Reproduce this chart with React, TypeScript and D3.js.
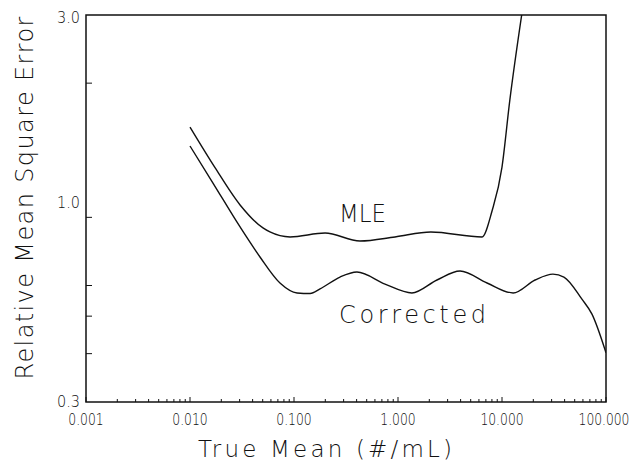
import React from 'react';
import * as d3 from 'd3';

// True mean (#/mL) and relative MSE
const mleX = [0.01, 0.0174, 0.0303, 0.0503, 0.0587, 0.0917, 0.199, 0.431, 0.935, 2.07, 6.43, 8.02, 10.0, 11.9, 15.6];
const mleY = [1.54, 1.21, 0.969, 0.845, 0.825, 0.801, 0.82, 0.782, 0.801, 0.825, 0.801, 0.935, 1.214, 1.81, 3.05];

const corrX = [0.01, 0.01663, 0.0303, 0.0471, 0.0733, 0.107, 0.143, 0.178, 0.277, 0.403, 0.75, 1.36, 2.37, 3.95, 7.18, 12.8, 20.8, 30.9, 39.4, 58.7, 73.3, 100];
const corrY = [1.376, 1.104, 0.85, 0.711, 0.609, 0.574, 0.572, 0.588, 0.631, 0.65, 0.605, 0.574, 0.62, 0.654, 0.609, 0.574, 0.62, 0.642, 0.631, 0.553, 0.506, 0.402];

const xTickValues = [0.001, 0.01, 0.1, 1, 10, 100];
const xTickLabels = ['0.001', '0.010', '0.100', '1.000', '10.000', '100.000'];
const yTickValues = [0.3, 1.0, 3.0];
const yTickLabels = ['0.3', '1.0', '3.0'];
const yMinorTicks = [2, 0.9, 0.6, 0.5, 0.4];

const W = 634;
const H = 463;
const margin = { top: 15, right: 28, bottom: 61, left: 86 };
const ink = '#111';
const font = '"DejaVu Sans", "Liberation Sans", sans-serif';

export default function App() {
  const x = d3.scaleLog().domain([0.001, 100]).range([margin.left, W - margin.right]);
  const y = d3.scaleLog().domain([0.3, 3.0]).range([H - margin.bottom, margin.top]);

  const line = d3.line<[number, number]>()
    .x(d => x(d[0]))
    .y(d => y(d[1]))
    .curve(d3.curveMonotoneX);

  const mle = mleX.map((v, i) => [v, mleY[i]] as [number, number]);
  const corr = corrX.map((v, i) => [v, corrY[i]] as [number, number]);

  // minor ticks 2..9 for each decade
  const xMinor: number[] = [];
  for (let e = -3; e < 2; e++) {
    for (let k = 2; k <= 9; k++) xMinor.push(k * Math.pow(10, e));
  }

  const x0 = margin.left, x1 = W - margin.right;
  const y0 = H - margin.bottom, y1 = margin.top;

  return (
    <svg width={W} height={H} style={{ position: 'absolute', left: 0, top: 0, background: '#fff' }}>
      <defs>
        <clipPath id="plot">
          <rect x={x0} y={y1} width={x1 - x0} height={y0 - y1} />
        </clipPath>
      </defs>

      <rect x={x0} y={y1} width={x1 - x0} height={y0 - y1} fill="none" stroke={ink} strokeWidth={1.5} />

      {/* x ticks */}
      {xTickValues.map(v => (
        <line key={'xt' + v} x1={x(v)} x2={x(v)} y1={y0} y2={y0 - 5} stroke={ink} strokeWidth={1} />
      ))}
      {xMinor.map(v => (
        <line key={'xm' + v} x1={x(v)} x2={x(v)} y1={y0} y2={y0 - 3} stroke={ink} strokeWidth={1} />
      ))}
      {xTickValues.map((v, i) => (
        <text key={'xl' + v} x={i === xTickValues.length - 1 ? x(v) - 2 : x(v)} y={y0 + 23} textAnchor="middle"
          fontFamily={font} fontWeight={200} fontSize={16} fill={ink}
          textLength={xTickLabels[i].length * 7.7 - 3} lengthAdjust="spacingAndGlyphs">
          {xTickLabels[i]}
        </text>
      ))}

      {/* y ticks */}
      {yMinorTicks.map(v => (
        <line key={'ym' + v} x1={x0} x2={x0 + 6} y1={y(v)} y2={y(v)} stroke={ink} strokeWidth={1} />
      ))}
      {yTickValues.map((v, i) => (
        <text key={'yl' + v} x={80} y={y(v) + (v === 0.3 ? 5 : 8)} textAnchor="end" fontFamily={font} fontWeight={200} fontSize={16} fill={ink}
          textLength={23} lengthAdjust="spacingAndGlyphs">
          {yTickLabels[i]}
        </text>
      ))}

      <g clipPath="url(#plot)" fill="none" stroke={ink} strokeWidth={1.4}>
        <path d={line(mle) || ''} />
        <path d={line(corr) || ''} />
      </g>

      <text x={339} y={222} fontFamily={font} fontWeight={200} fontSize={24} fill={ink} textLength={47} lengthAdjust="spacingAndGlyphs">MLE</text>
      <text x={339} y={323} fontFamily={font} fontWeight={200} fontSize={24} fill={ink} textLength={147} lengthAdjust="spacing">Corrected</text>

      <text transform="translate(33,198) rotate(-90)" textAnchor="middle" fontFamily={font} fontWeight={200} fontSize={24} fill={ink}
        textLength={363} lengthAdjust="spacing">Relative Mean Square Error</text>
      <text x={325} y={457} textAnchor="middle" fontFamily={font} fontWeight={200} fontSize={23} fill={ink}
        textLength={254} lengthAdjust="spacing">True Mean (#/mL)</text>
    </svg>
  );
}
